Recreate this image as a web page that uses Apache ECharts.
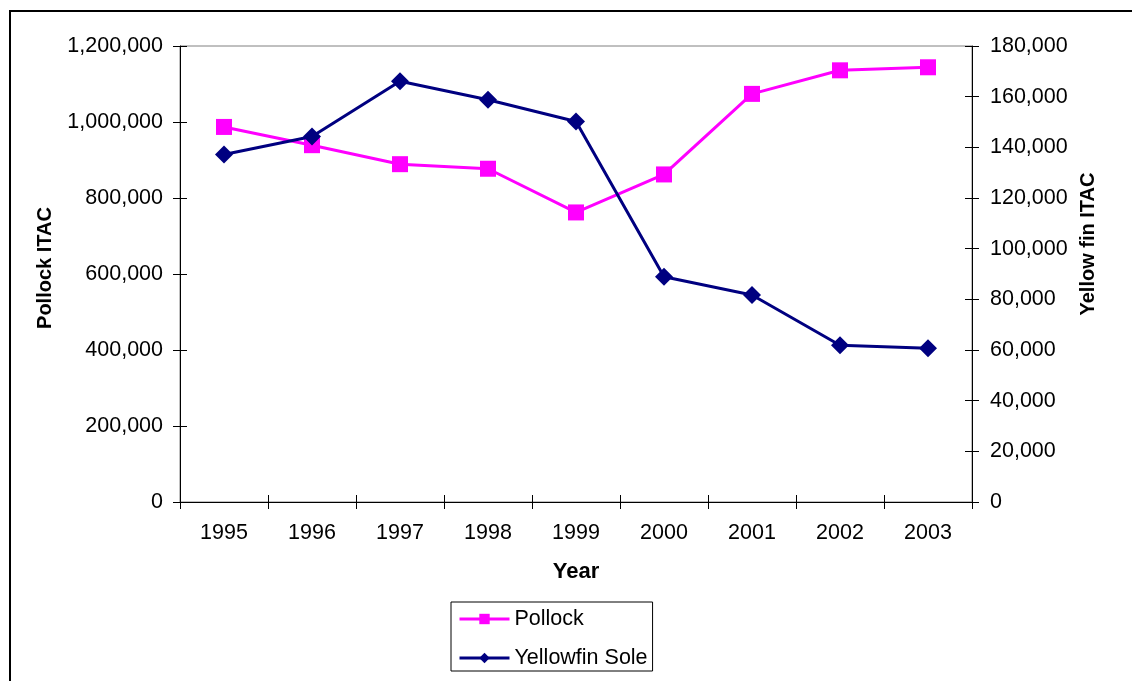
<!DOCTYPE html>
<html>
<head>
<meta charset="utf-8">
<script src="https://cdn.jsdelivr.net/npm/echarts@6/dist/echarts.min.js"></script>
<style>
  html, body { margin: 0; padding: 0; background: #fff; }
  #chart { width: 1132px; height: 681px; }
</style>
</head>
<body>
<div id="chart"></div>
<script>
// Total allowable catch by year, two species on separate scales
const years = ['1995', '1996', '1997', '1998', '1999', '2000', '2001', '2002', '2003'];
const pollock = [987000, 939000, 889000, 877000, 762000, 862000, 1074000, 1136000, 1144000];
const yellowfinSole = [137200, 144300, 166100, 158800, 150200, 88900, 81700, 61900, 60700];

// Axis ranges: [min, max, step]
const pollockRange = [0, 1200000, 200000];
const yellowfinRange = [0, 180000, 20000];

const FONT = '"Liberation Sans", Arial, sans-serif';
const fmt = v => Number(v).toLocaleString('en-US');

const chart = echarts.init(document.getElementById('chart'));

const tickLabel = { color: '#000', fontSize: 21.5, fontFamily: FONT };
const axisTitle = { color: '#000', fontSize: 20, fontWeight: 'bold', fontFamily: FONT };
const blackLine = { show: true, lineStyle: { color: '#000', width: 1 } };
const tick = (inside) => ({ show: true, inside: inside, length: 7, lineStyle: { color: '#000', width: 1 } });

chart.setOption({
  backgroundColor: '#fff',
  animation: false,
  textStyle: { fontFamily: FONT },
  grid: {
    left: 180, right: 160, top: 46, bottom: 179,
    show: true, borderColor: '#808080', borderWidth: 1, backgroundColor: '#fff'
  },
  graphic: [{
    type: 'rect',
    shape: { x: 10, y: 11, width: 1200, height: 800 },
    style: { fill: 'none', stroke: '#000', lineWidth: 2 },
    silent: true
  }],
  legend: {
    orient: 'vertical',
    left: 451, top: 602,
    padding: [6, 5, 2, 7],
    itemWidth: 50, itemHeight: 13, itemGap: 17,
    borderColor: '#000', borderWidth: 1,
    lineStyle: { width: 3 },
    textStyle: { color: '#000', fontSize: 21.5, fontFamily: FONT, lineHeight: 20 },
    data: ['Pollock', 'Yellowfin Sole']
  },
  xAxis: [{
    type: 'category', data: years, position: 'bottom', boundaryGap: true,
    name: 'Year', nameLocation: 'middle', nameGap: 59,
    nameTextStyle: Object.assign({}, axisTitle, { fontSize: 22 }),
    axisLine: blackLine, axisTick: tick(false),
    axisLabel: Object.assign({ margin: 20 }, tickLabel),
    splitLine: { show: false }
  }, {
    // inner half of the crossing ticks
    type: 'category', data: years, position: 'bottom', boundaryGap: true,
    axisLine: { show: false }, axisTick: tick(true),
    axisLabel: { show: false }, splitLine: { show: false }
  }],
  yAxis: [{
    type: 'value', position: 'left',
    min: pollockRange[0], max: pollockRange[1], interval: pollockRange[2],
    name: 'Pollock ITAC', nameLocation: 'middle', nameGap: 125,
    nameTextStyle: Object.assign({ padding: [0, 0, 0, 12] }, axisTitle),
    axisLine: blackLine, axisTick: tick(false),
    axisLabel: Object.assign({ margin: 17, formatter: fmt }, tickLabel),
    splitLine: { show: false }
  }, {
    type: 'value', position: 'right',
    min: yellowfinRange[0], max: yellowfinRange[1], interval: yellowfinRange[2],
    name: 'Yellow fin ITAC', nameLocation: 'middle', nameGap: 104,
    nameTextStyle: Object.assign({ padding: [0, 0, 0, 60] }, axisTitle),
    axisLine: blackLine, axisTick: tick(false),
    axisLabel: Object.assign({ margin: 18, formatter: fmt }, tickLabel),
    splitLine: { show: false }
  }, {
    type: 'value', position: 'left',
    min: pollockRange[0], max: pollockRange[1], interval: pollockRange[2],
    axisLine: { show: false }, axisTick: tick(true),
    axisLabel: { show: false }, splitLine: { show: false }
  }, {
    type: 'value', position: 'right',
    min: yellowfinRange[0], max: yellowfinRange[1], interval: yellowfinRange[2],
    axisLine: { show: false }, axisTick: tick(true),
    axisLabel: { show: false }, splitLine: { show: false }
  }],
  series: [{
    name: 'Pollock', type: 'line', data: pollock,
    xAxisIndex: 0, yAxisIndex: 0,
    symbol: 'rect', symbolSize: 16,
    itemStyle: { color: '#FF00FF' },
    lineStyle: { color: '#FF00FF', width: 3 },
    z: 3
  }, {
    name: 'Yellowfin Sole', type: 'line', data: yellowfinSole,
    xAxisIndex: 0, yAxisIndex: 1,
    symbol: 'diamond', symbolSize: 18,
    itemStyle: { color: '#000080' },
    lineStyle: { color: '#000080', width: 3 },
    z: 4
  }]
});
</script>
</body>
</html>
